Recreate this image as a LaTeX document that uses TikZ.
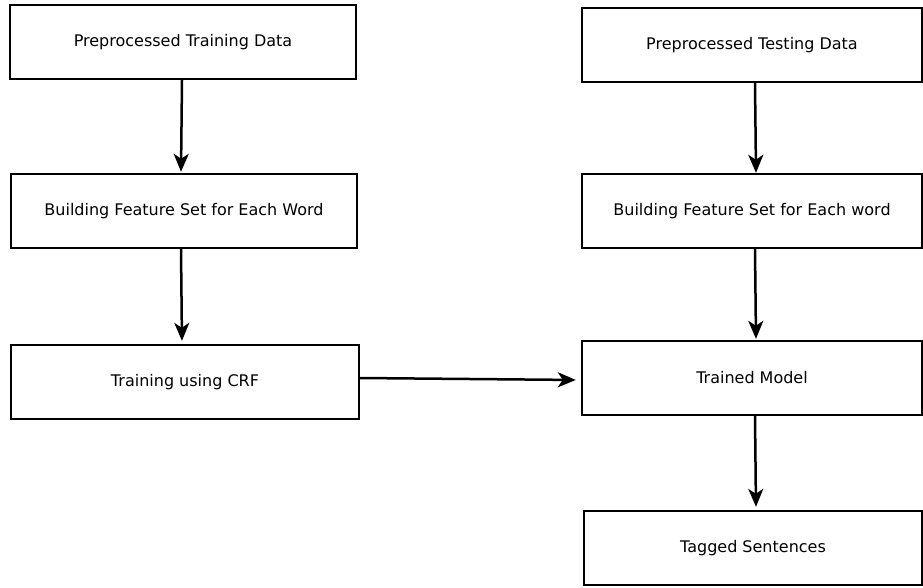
\documentclass[tikz,border=0pt]{standalone}
\usepackage{fontspec}
\setmainfont{DejaVu Sans}
\usetikzlibrary{arrows.meta}
\begin{document}
\begin{tikzpicture}[x=1pt,y=-1pt,
  stepbox/.style={draw, line width=2.4pt, minimum height=74pt, inner sep=0pt,
    font=\fontsize{16}{19}\selectfont},
  flow/.style={line width=2.5pt, -{Stealth[length=18pt,width=15pt,inset=5pt]}}]
  \useasboundingbox (0,0) rectangle (923,587);
  % training pipeline
  \node[stepbox, minimum width=346pt] (b1) at (183,42) {Preprocessed Training Data};
  \node[stepbox, minimum width=346pt] (b2) at (184,211) {Building Feature Set for Each Word};
  \node[stepbox, minimum width=348pt] (b3) at (185,382) {Training using CRF};
  % testing pipeline
  \node[stepbox, minimum width=340pt] (b4) at (752,45) {Preprocessed Testing Data};
  \node[stepbox, minimum width=340pt] (b5) at (752,211) {Building Feature Set for Each word};
  \node[stepbox, minimum width=340pt] (b6) at (752,378) {Trained Model};
  \node[stepbox, minimum width=338pt] (b7) at (753,548) {Tagged Sentences};
  % connectors
  \draw[flow, shorten >=1pt] ([xshift=-1pt]b1.south) -- ([xshift=-3pt]b2.north);
  \draw[flow, shorten >=3pt] ([xshift=-3pt]b2.south) -- ([xshift=-3pt]b3.north);
  \draw[flow, shorten >=0pt] ([xshift=3pt]b4.south) -- ([xshift=4pt]b5.north);
  \draw[flow, shorten >=1pt] ([xshift=3pt]b5.south) -- ([xshift=4pt]b6.north);
  \draw[flow, shorten >=3pt] ([xshift=3pt]b6.south) -- ([xshift=3pt]b7.north);
  \draw[flow, shorten >=5pt] ([yshift=4pt]b3.east) -- ([yshift=-2pt]b6.west);
\end{tikzpicture}
\end{document}
